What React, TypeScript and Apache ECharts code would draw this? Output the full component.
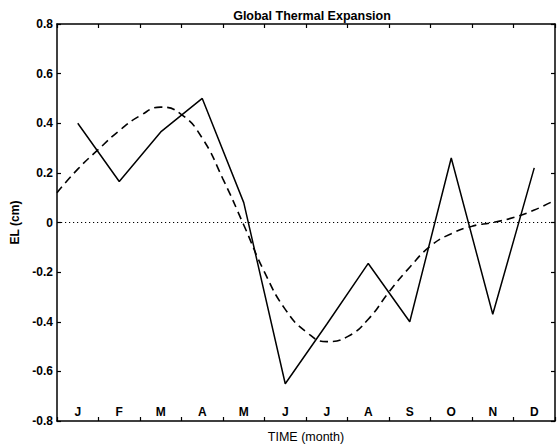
import React, { useEffect, useRef } from "react";
import * as echarts from "echarts";

// Month labels (one per bin along the time axis)
const months = ["J", "F", "M", "A", "M", "J", "J", "A", "S", "O", "N", "D"];

// Monthly steric sea-level values (cm), plotted at month centres
const monthCentres = [0.5, 1.5, 2.5, 3.5, 4.5, 5.5, 6.5, 7.5, 8.5, 9.5, 10.5, 11.5];
const monthlyEL = [0.40, 0.165, 0.365, 0.50, 0.08, -0.65, -0.41, -0.165, -0.40, 0.26, -0.37, 0.22];

// Fitted seasonal cycle (cm), sampled every half month
const fitTimes = [0, 0.5, 1, 1.5, 2, 2.5, 3, 3.5, 4, 4.5, 5, 5.5, 6, 6.5, 7, 7.5, 8, 8.5, 9, 9.5, 10, 10.5, 11, 11.5, 12];
const fitEL = [0.12, 0.215, 0.295, 0.37, 0.43, 0.465, 0.435, 0.34, 0.175, -0.01, -0.2, -0.35, -0.44, -0.48, -0.46, -0.39, -0.28, -0.18, -0.095, -0.045, -0.015, 0.0, 0.02, 0.05, 0.09];

// Zero reference line
const zeroTimes = [0, 12];
const zeroEL = [0, 0];

const FONT = "Liberation Sans, Arial, sans-serif";
const INK = "#000";

export default function App() {
  const ref = useRef<HTMLDivElement>(null);

  useEffect(() => {
    if (!ref.current) return;
    const chart = echarts.init(ref.current, undefined, { renderer: "svg" });

    const frameLine = { show: true, onZero: false, lineStyle: { color: INK, width: 1.5 } };
    const innerTick = { show: true, inside: true, length: 4, lineStyle: { color: INK, width: 1.2 } };

    chart.setOption({
      animation: false,
      backgroundColor: "#fff",
      title: {
        text: "Global Thermal Expansion",
        left: 307,
        textAlign: "center",
        top: 4,
        textStyle: { fontFamily: FONT, fontSize: 12.5, fontWeight: "bold", color: INK },
      },
      grid: { left: 57, right: 2, top: 24, bottom: 26.5, containLabel: false },
      xAxis: [
        {
          type: "value",
          min: 0,
          max: 12,
          interval: 1,
          position: "bottom",
          axisLine: frameLine,
          axisTick: innerTick,
          axisLabel: { show: false },
          splitLine: { show: false },
          name: "TIME (month)",
          nameLocation: "middle",
          nameGap: 9,
          nameTextStyle: { fontFamily: FONT, fontSize: 12.5, color: INK, verticalAlign: "top" },
        },
        {
          type: "value",
          min: 0,
          max: 12,
          interval: 1,
          position: "top",
          axisLine: frameLine,
          axisTick: innerTick,
          axisLabel: { show: false },
          splitLine: { show: false },
        },
        {
          type: "category",
          data: months,
          position: "bottom",
          boundaryGap: true,
          axisLine: { show: false, onZero: false },
          axisTick: { show: false },
          axisLabel: {
            inside: true,
            margin: 3,
            fontFamily: FONT,
            fontSize: 12,
            fontWeight: "bold",
            color: INK,
          },
          splitLine: { show: false },
        },
      ],
      yAxis: [
        {
          type: "value",
          min: -0.8,
          max: 0.8,
          interval: 0.2,
          position: "left",
          axisLine: frameLine,
          axisTick: innerTick,
          axisLabel: {
            margin: 4,
            fontFamily: FONT,
            fontSize: 12,
            fontWeight: "bold",
            color: INK,
            formatter: (v: number) => String(Math.round(v * 10) / 10),
          },
          splitLine: { show: false },
          name: "EL (cm)",
          nameLocation: "middle",
          nameGap: 31,
          nameRotate: 90,
          nameTextStyle: { fontFamily: FONT, fontSize: 12, fontWeight: "bold", color: INK },
        },
        {
          type: "value",
          min: -0.8,
          max: 0.8,
          interval: 0.2,
          position: "right",
          axisLine: frameLine,
          axisTick: innerTick,
          axisLabel: { show: false },
          splitLine: { show: false },
        },
      ],
      series: [
        {
          name: "zero",
          type: "line",
          xAxisIndex: 0,
          yAxisIndex: 0,
          data: zeroTimes.map((t, i) => [t, zeroEL[i]]),
          showSymbol: false,
          lineStyle: { color: INK, width: 1, type: [1.2, 2.8] },
          silent: true,
          z: 1,
        },
        {
          name: "fit",
          type: "line",
          xAxisIndex: 0,
          yAxisIndex: 0,
          data: fitTimes.map((t, i) => [t, fitEL[i]]),
          smooth: 0.5,
          showSymbol: false,
          lineStyle: { color: INK, width: 1.6, type: [8, 5] },
          z: 2,
        },
        {
          name: "monthly",
          type: "line",
          xAxisIndex: 0,
          yAxisIndex: 0,
          data: monthCentres.map((t, i) => [t, monthlyEL[i]]),
          showSymbol: false,
          lineStyle: { color: INK, width: 1.5 },
          z: 3,
        },
      ],
    });

    return () => chart.dispose();
  }, []);

  return <div ref={ref} style={{ width: 557, height: 448, position: "absolute", left: 0, top: 0 }} />;
}
